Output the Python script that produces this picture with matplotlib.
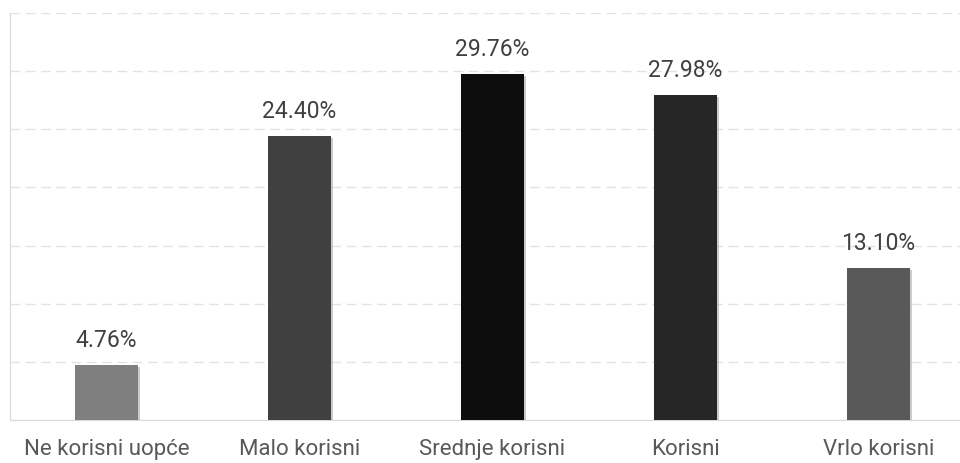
import matplotlib.pyplot as plt
import matplotlib.patheffects as pe

categories = ['Ne korisni uopće', 'Malo korisni', 'Srednje korisni', 'Korisni', 'Vrlo korisni']
values = [4.76, 24.40, 29.76, 27.98, 13.10]
colors = ['#7f7f7f', '#404040', '#0d0d0d', '#262626', '#595959']

plt.rcParams['font.family'] = ['Roboto', 'DejaVu Sans']

fig = plt.figure(figsize=(9.6, 4.64), dpi=100)
ax = fig.add_axes([10 / 960, 43 / 464, 965 / 960, 407 / 464])

x = range(len(categories))
bars = ax.bar(x, values, width=0.33, color=colors, zorder=3)
for b in bars:
    b.set_path_effects([pe.SimplePatchShadow(offset=(1.5, -1.5), shadow_rgbFace='#999999', alpha=0.5), pe.Normal()])

for i, v in enumerate(values):
    ax.text(i, v + 1.2, f'{v:.2f}%', ha='center', va='bottom', fontsize=16.5, color='#404040')

ax.set_xlim(-0.5, 4.5)
ax.set_ylim(0, 35)
ax.set_yticks(range(0, 36, 5))
ax.set_yticklabels([])
ax.tick_params(axis='y', length=0)
ax.tick_params(axis='x', length=0, pad=13, labelsize=16, labelcolor='#595959')
ax.set_xticks(list(x))
ax.set_xticklabels(categories)
ax.grid(axis='y', color='#e3e3e3', linestyle=(0, (7, 4)), linewidth=1, zorder=0)

for s in ['top', 'right']:
    ax.spines[s].set_visible(False)
for s in ['left', 'bottom']:
    ax.spines[s].set_color('#d9d9d9')

fig.savefig('out.png', dpi=100)
